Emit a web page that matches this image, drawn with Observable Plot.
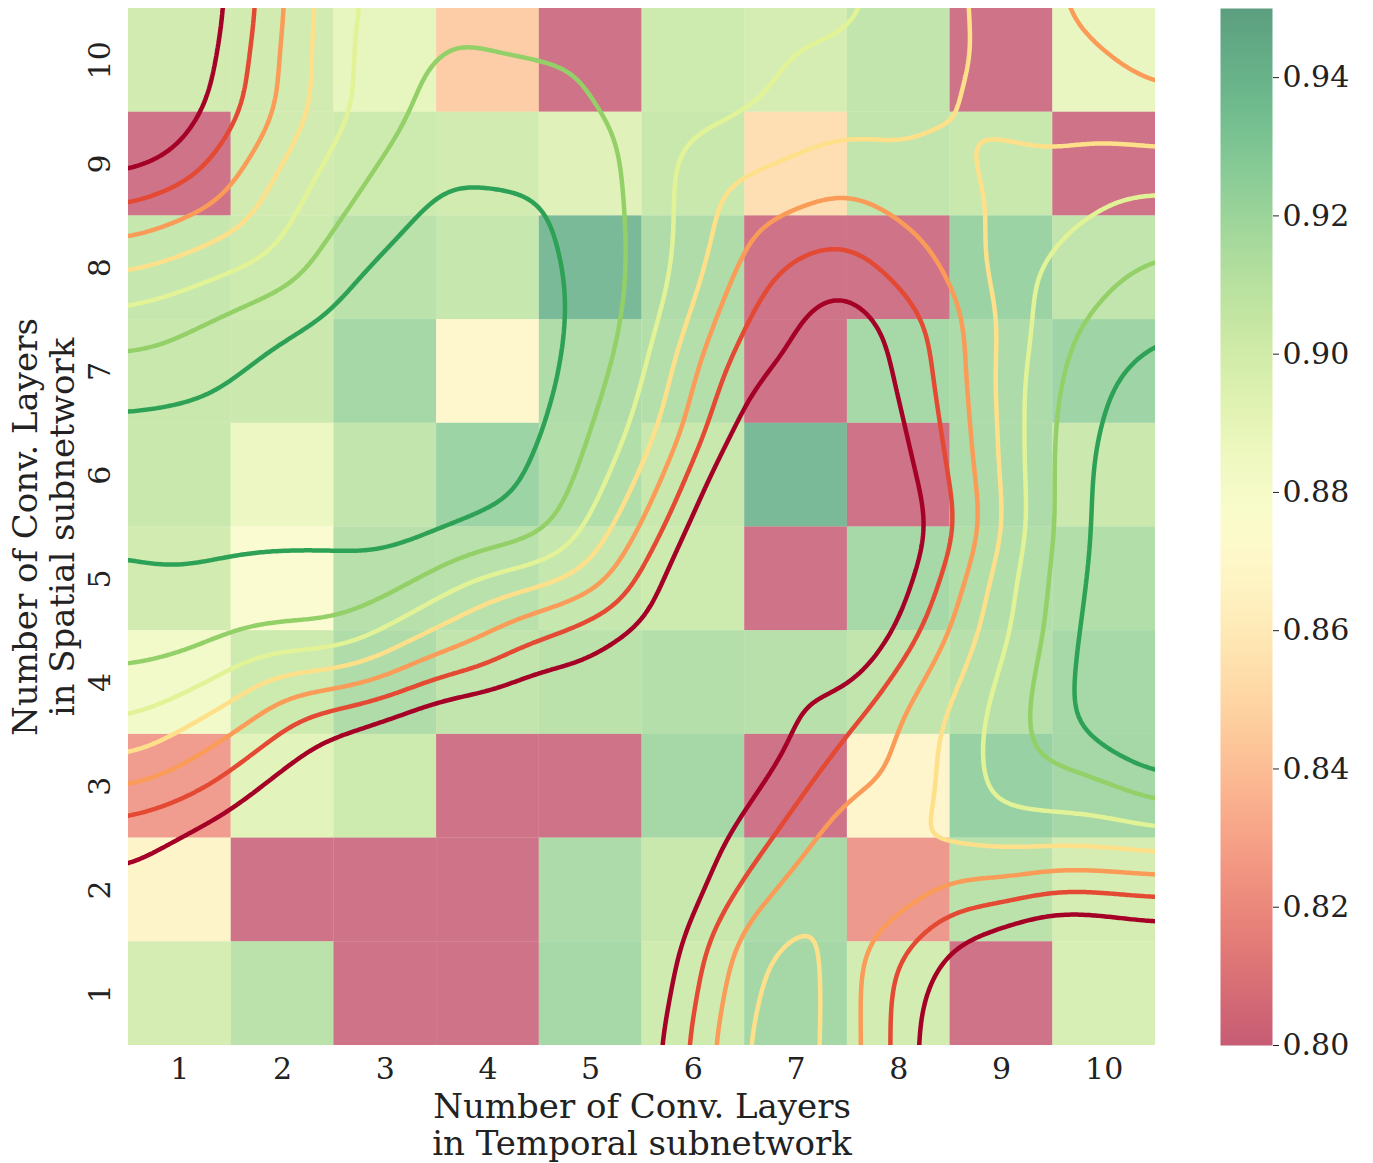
<!DOCTYPE html>
<html><head><meta charset="utf-8">
<script src="https://cdn.jsdelivr.net/npm/d3@7"></script>
<script src="https://cdn.jsdelivr.net/npm/@observablehq/plot@0.6"></script>
<style>
body{margin:0;background:#fff;}
#wrap{position:relative;width:1373px;height:1163px;}
#wrap svg{position:absolute;top:0;}
</style></head><body><div id="wrap"></div>
<script>
// ---- heatmap data ----
const temporalLayers = [1,2,3,4,5,6,7,8,9,10];
const spatialLayers = [10,9,8,7,6,5,4,3,2,1];
// rows: spatial 10 (top) .. 1 (bottom); columns: temporal 1..10 (red cells clipped at 0.80)
const accuracy = [
 [0.903,0.903,0.891,0.843,0.800,0.905,0.901,0.910,0.800,0.890],
 [0.800,0.903,0.905,0.903,0.895,0.907,0.852,0.910,0.907,0.800],
 [0.908,0.905,0.913,0.908,0.942,0.918,0.800,0.800,0.926,0.910],
 [0.907,0.906,0.922,0.868,0.918,0.916,0.800,0.921,0.919,0.924],
 [0.907,0.888,0.910,0.925,0.917,0.907,0.942,0.800,0.919,0.906],
 [0.903,0.876,0.915,0.914,0.908,0.905,0.800,0.921,0.917,0.917],
 [0.884,0.905,0.918,0.910,0.913,0.916,0.915,0.910,0.915,0.921],
 [0.822,0.894,0.905,0.800,0.800,0.922,0.800,0.867,0.927,0.922],
 [0.866,0.800,0.800,0.800,0.919,0.907,0.920,0.820,0.913,0.901],
 [0.901,0.913,0.800,0.800,0.921,0.904,0.922,0.902,0.800,0.900]
];
const surfaceX = [-0.5,0.5,1.5,2.5,3.5,4.5,5.5,6.5,7.5,8.5,9.5,10.5,11.5];
const surfaceY = [11.5,10.5,9.5,8.5,7.5,6.5,5.5,4.5,3.5,2.5,1.5,0.5,-0.5];
const surface = [
 [0.750,0.750,0.802,0.875,0.897,0.894,0.892,0.888,0.884,0.864,0.841,0.826,0.826],
 [0.750,0.750,0.802,0.875,0.897,0.894,0.892,0.888,0.884,0.864,0.841,0.826,0.826],
 [0.764,0.764,0.812,0.874,0.908,0.906,0.894,0.883,0.868,0.8596,0.850,0.844,0.844],
 [0.826,0.826,0.850,0.898,0.926,0.924,0.896,0.846,0.830,0.850,0.874,0.890,0.890],
 [0.888,0.888,0.906,0.926,0.934,0.930,0.894,0.818,0.784,0.830,0.892,0.916,0.916],
 [0.926,0.926,0.930,0.932,0.932,0.926,0.876,0.790,0.770,0.824,0.902,0.940,0.940],
 [0.923,0.923,0.926,0.926,0.928,0.912,0.840,0.750,0.750,0.812,0.902,0.950,0.950],
 [0.913,0.913,0.905,0.901,0.858,0.823,0.794,0.776,0.764,0.841,0.906,0.960,0.960],
 [0.875,0.875,0.840,0.794,0.770,0.760,0.760,0.780,0.820,0.866,0.912,0.950,0.950],
 [0.806,0.806,0.784,0.770,0.760,0.760,0.770,0.806,0.856,0.866,0.870,0.874,0.874],
 [0.784,0.784,0.770,0.760,0.750,0.756,0.770,0.850,0.850,0.798,0.770,0.780,0.780],
 [0.780,0.780,0.770,0.750,0.740,0.750,0.784,0.864,0.852,0.776,0.760,0.770,0.770],
 [0.780,0.780,0.770,0.750,0.740,0.750,0.784,0.864,0.852,0.776,0.760,0.770,0.770]
];
// extra samples for the small bump near (7, 1)
const bumpX = [6.9, 7.0, 6.9];
const bumpY = [0.5, 1.4, -0.5];
const bumpV = [0.872, 0.872, 0.872];

const contourLevels = [0.80,0.82,0.84,0.86,0.88,0.90,0.92];
const contourColors = ["#a50026","#e34933","#fa9b58","#fee08b","#e2f397","#93d068","#2da155"];
const colorTicks = [0.80,0.82,0.84,0.86,0.88,0.90,0.92,0.94];

const cells = [];
spatialLayers.forEach((s, i) => temporalLayers.forEach((t, j) => cells.push({t, s, v: accuracy[i][j]})));
const surfacePts = [];
surfaceY.forEach((y, i) => surfaceX.forEach((x, j) => surfacePts.push({x, y, v: surface[i][j]})));
bumpX.forEach((x, i) => surfacePts.push({x, y: bumpY[i], v: bumpV[i]}));

const colorScale = {type: "linear", scheme: "RdYlGn", domain: [0.80, 0.95], clamp: true};
const font = "DejaVu Serif";

const main = Plot.plot({
  width: 1373, height: 1163,
  marginLeft: 128, marginRight: 218, marginTop: 8, marginBottom: 118,
  x: {domain: [0.5, 10.5]},
  y: {domain: [0.5, 10.5], axis: null},
  color: colorScale,
  style: {fontFamily: font, fontSize: "30px", color: "#222", background: "transparent"},
  marks: [
    Plot.rect(cells, {x1: d => d.t - 0.5, x2: d => d.t + 0.5, y1: d => d.s - 0.5, y2: d => d.s + 0.5, fill: "v", fillOpacity: 0.55}),
    ...contourLevels.map((lv, i) => Plot.contour(surfacePts, {
      x: "x", y: "y", value: "v", thresholds: [lv],
      interpolate: "barycentric", blur: 12, pixelSize: 2,
      x1: -0.5, x2: 11.5, y1: -0.5, y2: 11.5,
      fill: "none", stroke: contourColors[i], strokeWidth: 4.5, clip: true
    })),
    Plot.axisX(temporalLayers, {tickSize: 0, tickPadding: 12, fontSize: 30, label: null}),
    Plot.text(spatialLayers, {y: d => d, frameAnchor: "left", dx: -28, rotate: -90, textAnchor: "middle", text: d => String(d), fontSize: 30, fill: "#222"}),
    Plot.text(["Number of Conv. Layers\nin Temporal subnetwork"], {frameAnchor: "bottom", dy: 79, lineAnchor: "middle", textAnchor: "middle", text: d => d, fontSize: 34, lineHeight: 1.08, fill: "#222"}),
    Plot.text(["Number of Conv. Layers\nin Spatial subnetwork"], {frameAnchor: "left", dx: -85, rotate: -90, lineAnchor: "middle", textAnchor: "middle", text: d => d, fontSize: 34, lineHeight: 1.08, fill: "#222"})
  ]
});
main.style.left = "0px";

const bar = Plot.plot({
  width: 153, height: 1163,
  marginLeft: 0, marginRight: 101, marginTop: 8, marginBottom: 118,
  x: {domain: [0, 1], axis: null},
  y: {domain: [0.80, 0.95]},
  color: colorScale,
  style: {fontFamily: font, fontSize: "30px", color: "#222", background: "transparent"},
  marks: [
    Plot.raster({fill: (x, y) => y, x1: 0, x2: 1, y1: 0.80, y2: 0.95, fillOpacity: 0.64}),
    Plot.axisY(colorTicks, {anchor: "right", tickSize: 6, tickPadding: 4, tickFormat: d => d.toFixed(2), fontSize: 30, label: null})
  ]
});
bar.style.left = "1220px";

const wrap = document.getElementById("wrap");
wrap.appendChild(main);
wrap.appendChild(bar);
</script></body></html>
